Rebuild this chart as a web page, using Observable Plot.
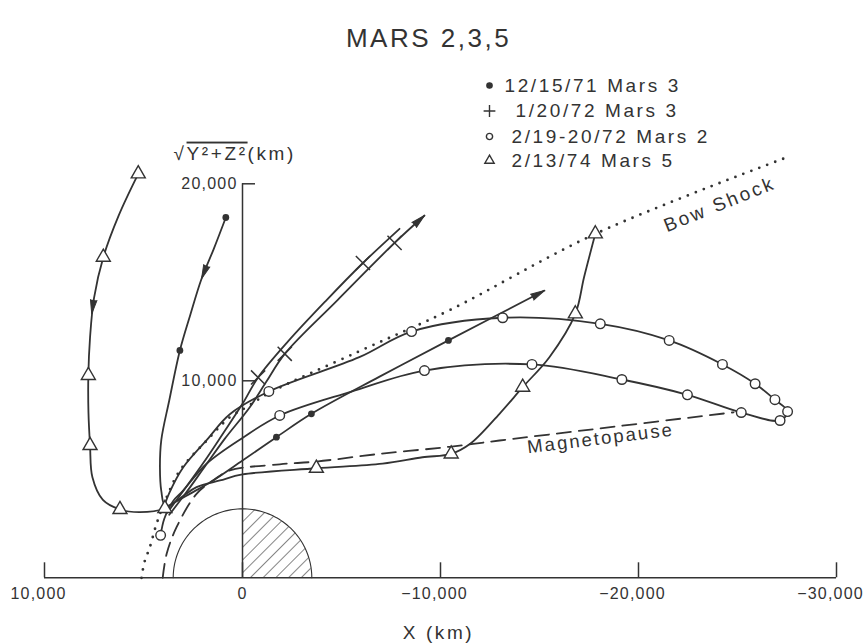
<!DOCTYPE html>
<html><head><meta charset="utf-8">
<script src="https://cdn.jsdelivr.net/npm/d3@7"></script>
<script src="https://cdn.jsdelivr.net/npm/@observablehq/plot@0.6"></script>
<style>
body{margin:0;background:#fff;}
svg{font-family:"Liberation Sans",Arial,sans-serif;}
svg g[font-size="16"]{letter-spacing:1.2px;}
svg g[font-size="19"]{letter-spacing:2.6px;}
svg g[font-size="18.5"]{letter-spacing:2.1px;}
svg g[font-size="26"]{letter-spacing:2.5px;}
</style></head><body><div id="chart"></div>
<script>
// ---------- data (X km, sqrt(Y^2+Z^2) km) ----------
const xTicks = [10000, 0, -10000, -20000, -30000];
const yTicks = [10000, 20000];

const bowShock = [[5100,0],[4950,800],[4680,1550],[4340,2740],[3830,4090],[3160,5450],[1800,6970],[640,8150],[-200,8660],[-1380,9400],[-5900,11500],[-10450,13580],[-17870,17480],[-27650,21400]];
const magnetopause = [[4030,0],[3830,1220],[3330,2570],[2320,4260],[1400,5000],[640,5450],[-1880,5760],[-3730,5900],[-6920,6290],[-10450,6650],[-12980,6970],[-18030,7580],[-24800,8400]];

// 2/13/74 Mars 5 (triangles)
const mars5Path = [[5265,20508],[6250,18400],[7030,16275],[7500,14200],[7700,12200],[7786,10270],[7780,8400],[7700,6716],[7580,5100],[7050,3950],[6188,3467],[5180,3330],[3920,3520],[3000,4150],[2320,4600],[1140,4940],[0,5245],[-3730,5560],[-7075,5800],[-9090,6120],[-10540,6290],[-11500,6800],[-12980,8325],[-14150,9675],[-15500,11200],[-16810,13400],[-17250,15260],[-17820,17460]];
const mars5Marks = [[5265,20508],[7030,16275],[7786,10270],[7700,6716],[6188,3467],[3920,3520],[-3730,5560],[-10540,6290],[-14150,9675],[-16810,13400],[-17820,17460]];

// 12/15/71 Mars 3 (filled dots)
const dec71Path = [[842,18290],[1450,16700],[2068,15180],[2650,13300],[3162,11540],[3700,9000],[4100,7000],[4170,5600],[4100,4400],[3900,3650],[3300,3900],[2660,4260],[1480,4940],[0,5950],[-1713,7137],[-3480,8325],[-6900,10200],[-10400,12050],[-15250,14580]];
const dec71Marks = [[842,18290],[3162,11540],[-1713,7137],[-3480,8325],[-10400,12050]];

// 1/20/72 Mars 3 (crosses) - two passes
const jan72PathA = [[3800,3300],[3000,4400],[2000,5800],[1000,7300],[0,8830],[-787,10170],[-2300,12000],[-4200,14050],[-6082,15980],[-7930,17715]];
const jan72PathB = [[3700,3200],[2900,4250],[1900,5650],[900,7050],[-368,8660],[-1200,9950],[-2133,11370],[-4800,14100],[-7680,17000],[-9193,18390]];
const jan72Marks = [[-787,10170],[-6082,15980],[-2133,11370],[-7680,17000]];

// 2/19-20/72 Mars 2 (open circles)
const feb72Path = [[4135,2155],[3950,3000],[3500,3900],[3000,4430],[1815,5790],[0,7100],[-1880,8240],[-5500,9450],[-9190,10520],[-14620,10830],[-19160,10066],[-22470,9290],[-25190,8390],[-27150,7985],[-27530,8440],[-26890,9040],[-25890,9850],[-24240,10830],[-21550,12050],[-18070,12890],[-13140,13200],[-8540,12500],[-5900,11200],[-1330,9460],[640,8300],[1800,7000],[3000,5600],[3700,4300],[4000,3500]];
const feb72Marks = [[4135,2155],[-1880,8240],[-9190,10520],[-14620,10830],[-19160,10066],[-22470,9290],[-25190,8390],[-27150,7985],[-27530,8440],[-26890,9040],[-25890,9850],[-24240,10830],[-21550,12050],[-18070,12890],[-13140,13200],[-8540,12500],[-1330,9460]];

// direction arrows [from, to] (head drawn at "to")
const arrows = [
  [[7400,14900],[7615,13400]],
  [[1500,16600],[2068,15180]],
  [[-12500,13100],[-15250,14580]],
  [[-7680,17000],[-9193,18390]]
];

const marsRadius = 3500;
const legendLabels = ["12/15/71 Mars 3", "1/20/72 Mars 3", "2/19-20/72 Mars 2", "2/13/74 Mars 5"];
const legendSymbols = ["dot", "plus", "circle", "triangle"];
const title = "MARS 2,3,5";
const yLabel = "√Y²+Z²(km)";
const xLabel = "X (km)";

// ---------- layout helpers (pixel -> data for annotations) ----------
const W = 864, H = 644;
const mL = 44, mR = 28, mT = 183.3, mB = 66.7;
const sx = d3.scaleLinear([10000, -30000], [mL, W - mR]);
const sy = d3.scaleLinear([0, 20000], [H - mB, mT]);
const ax = px => sx.invert(px), ay = py => sy.invert(py);
const heading = ([a, b]) => Math.atan2(sx(b[0]) - sx(a[0]), -(sy(b[1]) - sy(a[1]))) * 180 / Math.PI;

const ink = "#333";
const font = "Liberation Sans";
const pt = a => a.map(([x, y]) => ({x, y}));

const arc = d3.range(0, 181, 2).map(a => ({x: marsRadius * Math.cos(a * Math.PI / 180), y: marsRadius * Math.sin(a * Math.PI / 180)}));
const quarter = arc.filter(d => d.x <= 0.001);

const traj = (data) => Plot.line(pt(data), {x: "x", y: "y", curve: "catmull-rom", stroke: ink, strokeWidth: 1.8});

const legendRows = legendLabels.map((t, i) => ({t, s: legendSymbols[i], i}));
const legendY = [85, 110.5, 136, 160];
const legendTextX = [504, 515, 511, 511];
const fmt = d3.format(",");

const plot = Plot.plot({
  width: W, height: H,
  marginLeft: mL, marginRight: mR, marginTop: mT, marginBottom: mB,
  x: {domain: [10000, -30000], axis: null},
  y: {domain: [0, 20000], axis: null},
  style: {background: "white", color: ink},
  marks: [
    // planet
    Plot.areaY(quarter, {x: "x", y: "y", fill: "url(#hatch)"}),
    Plot.line(arc, {x: "x", y: "y", stroke: ink, strokeWidth: 1.1}),
    // axes
    Plot.ruleY([0], {x1: 10000, x2: -30000, stroke: ink, strokeWidth: 1.5}),
    Plot.ruleX([0], {y1: 0, y2: 20000, stroke: ink, strokeWidth: 1.5}),
    Plot.ruleX(xTicks, {x: d => d, y1: 0, y2: 0, insetTop: -15, stroke: ink, strokeWidth: 1.5}),
    Plot.ruleY(yTicks, {y: d => d, x1: 0, x2: 0, insetRight: -13, stroke: ink, strokeWidth: 1.5}),
    Plot.text(xTicks.filter(d => d === 0), {x: d => d, y: 0, dy: 16, text: d => fmt(d), fontSize: 16, fontFamily: font, fill: ink}),
    Plot.text(xTicks.filter(d => d !== 0), {x: d => d, y: 0, dy: 16, dx: -6, text: d => fmt(d), fontSize: 16, fontFamily: font, fill: ink}),
    Plot.text(yTicks, {x: 0, y: d => d, dx: -5, textAnchor: "end", text: d => fmt(d), fontSize: 16, fontFamily: font, fill: ink}),
    // boundaries
    Plot.line(pt(bowShock), {x: "x", y: "y", curve: "catmull-rom", stroke: ink, strokeWidth: 2.8, strokeDasharray: "0 8.5", strokeLinecap: "round"}),
    Plot.line(pt(magnetopause), {x: "x", y: "y", curve: "catmull-rom", stroke: ink, strokeWidth: 1.8, strokeDasharray: "14 8"}),
    // trajectories
    traj(mars5Path), traj(dec71Path), traj(jan72PathA), traj(jan72PathB), traj(feb72Path),
    Plot.vector(arrows, {x: d => d[1][0], y: d => d[1][1], rotate: heading, length: 14, r: 3.3, shape: "spike", anchor: "end", fill: ink, stroke: ink, strokeWidth: 1}),
    // markers
    Plot.dot(pt(mars5Marks), {x: "x", y: "y", symbol: "triangle", r: 5.2, fill: "white", stroke: ink, strokeWidth: 1.4}),
    Plot.dot(pt(dec71Marks), {x: "x", y: "y", r: 3.4, fill: ink}),
    Plot.dot(pt(jan72Marks), {x: "x", y: "y", symbol: "times", r: 6.5, stroke: ink, strokeWidth: 1.5}),
    Plot.dot(pt(feb72Marks), {x: "x", y: "y", r: 4.8, fill: "white", stroke: ink, strokeWidth: 1.4}),
    // labels
    Plot.text([title], {x: ax(428), y: ay(38), text: d => d, fontSize: 26, fontFamily: font, fill: ink}),
    Plot.dot(legendRows, {x: ax(489), y: d => ay(legendY[d.i]), symbol: d => d.s === "dot" ? "circle" : d.s,
      r: d => d.s === "dot" ? 3 : d.s === "plus" ? 6.5 : d.s === "circle" ? 4.2 : 5.2,
      fill: d => d.s === "dot" ? ink : "none", stroke: ink, strokeWidth: 1.4}),
    Plot.text(legendRows, {x: d => ax(legendTextX[d.i]), y: d => ay(legendY[d.i]), text: "t", textAnchor: "start", fontSize: 19, fontFamily: font, fill: ink}),
    Plot.text([yLabel], {x: ax(173), y: ay(153), text: d => d, textAnchor: "start", fontSize: 19, fontFamily: font, fill: ink}),
    Plot.text([xLabel], {x: ax(438), y: ay(632), text: d => d, fontSize: 19, fontFamily: font, fill: ink}),
    Plot.text(["Bow Shock"], {x: ax(719), y: ay(204), text: d => d, rotate: -22, fontSize: 19, fontFamily: font, fill: ink}),
    Plot.text(["Magnetopause"], {x: ax(600), y: ay(438), text: d => d, rotate: -7, fontSize: 18.5, fontFamily: font, fill: ink})
  ]
});

// hatch pattern for the night-side quarter of the planet
const svg = d3.select(plot);
const defs = svg.insert("defs", ":first-child");
const pat = defs.append("pattern").attr("id", "hatch").attr("patternUnits", "userSpaceOnUse")
  .attr("width", 9).attr("height", 9).attr("patternTransform", "rotate(45)");
pat.append("line").attr("x1", 0).attr("y1", 0).attr("x2", 0).attr("y2", 9).attr("stroke", ink).attr("stroke-width", 1.2);

// radical overline on the y label
svg.selectAll("text").filter(function() { return this.textContent === yLabel; }).each(function() {
  const t = d3.select(this);
  t.text(null);
  t.append("tspan").text("√");
  t.append("tspan").style("text-decoration", "overline").text("Y²+Z²");
  t.append("tspan").text("(km)");
});

document.getElementById("chart").appendChild(plot);
</script></body></html>
